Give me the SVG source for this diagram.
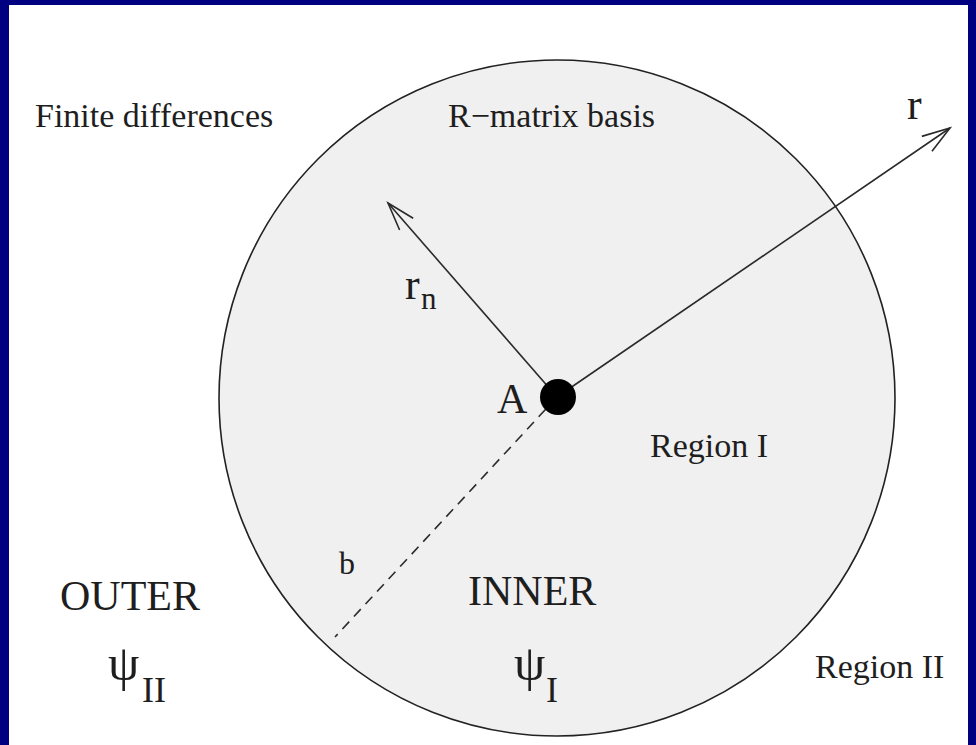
<svg xmlns="http://www.w3.org/2000/svg" width="976" height="745" viewBox="0 0 976 745">
<style>
text{font-family:"Liberation Serif","Times New Roman",serif;fill:#1e1e1e}
.ln{stroke:#2a2a2a;stroke-width:1.6;fill:none}
</style>
<defs>
<marker id="ah" markerUnits="userSpaceOnUse" markerWidth="40" markerHeight="30" viewBox="-32 -15 40 30" refX="0" refY="0" orient="auto" overflow="visible">
<path d="M-28,-9 L0,0 L-28,9" fill="none" stroke="#2a2a2a" stroke-width="1.6"/>
</marker>
</defs>
<rect x="0" y="0" width="976" height="745" fill="#000080"/>
<rect x="9" y="5" width="959" height="740" fill="#ffffff"/>
<g id="region">
<circle cx="557" cy="398" r="338" fill="#f0f0f0" stroke="#222" stroke-width="1.6"/>
</g>
<g id="connectors">
<line class="ln" x1="557" y1="397" x2="950" y2="128" marker-end="url(#ah)"/>
<line class="ln" x1="557" y1="397" x2="388" y2="203" marker-end="url(#ah)"/>
<line class="ln" x1="557" y1="397" x2="335" y2="637" stroke-dasharray="10 7"/>
</g>
<g id="nucleus">
<circle cx="558" cy="397" r="18" fill="#000"/>
<text x="497" y="413" font-size="42">A</text>
</g>
<g id="labels">
<text x="35" y="127" font-size="34">Finite differences</text>
<text x="448" y="127" font-size="34">R−matrix basis</text>
<text x="907" y="119" font-size="44">r</text>
<text x="405" y="299" font-size="44">r</text>
<text x="421" y="309" font-size="31">n</text>
<text x="650" y="457" font-size="34">Region I</text>
<text x="815" y="678" font-size="34">Region II</text>
<text x="339" y="574" font-size="32">b</text>
<text x="60" y="610" font-size="42">OUTER</text>
<text x="468" y="605" font-size="42">INNER</text>
<text x="108" y="680" font-size="50">ψ</text>
<text x="142" y="702" font-size="36">II</text>
<text x="514" y="680" font-size="50">ψ</text>
<text x="546" y="702" font-size="36">I</text>
</g>
</svg>
